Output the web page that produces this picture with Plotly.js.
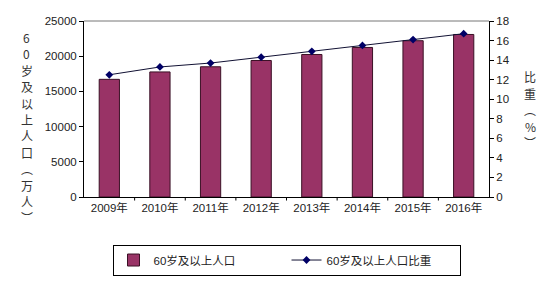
<!DOCTYPE html>
<html><head><meta charset="utf-8">
<script src="https://cdn.plot.ly/plotly-3.0.1.min.js"></script>
<style>html,body{margin:0;padding:0;background:#fff}</style>
</head><body><div id="chart" style="width:548px;height:288px"></div>
<script>
const years = ["2009年","2010年","2011年","2012年","2013年","2014年","2015年","2016年"];
const population = [16714, 17765, 18499, 19390, 20243, 21242, 22200, 23086];
const ratio = [12.5, 13.3, 13.7, 14.3, 14.9, 15.5, 16.1, 16.7];
const barName = "60岁及以上人口";
const lineName = "60岁及以上人口比重";
const leftTitleChars = ["6","0","岁","及","以","上","人","口","︵","万","人","︶"];
const rightTitleChars = ["比","重","︵","%","︶"];

const font = {family: "Liberation Sans, Arial, Noto Sans CJK SC, sans-serif", size: 11.5, color: "#222"};
const titleFont = {family: "Noto Sans CJK SC, sans-serif", size: 12, color: "#333"};
const plotTop = 21, plotH = 180.5;
function pyToPaper(py) { return (plotTop + plotH - py) / plotH; }
function stacked(chars, px, py0, step) {
  return chars.map((c, i) => ({text: c, xref: "paper", yref: "paper",
    x: (px - 84) / 405, y: pyToPaper(py0 + i * step), showarrow: false,
    font: titleFont, xanchor: "center", yanchor: "middle"}));
}
const data = [
  {type: "bar", x: years, y: population, name: barName, yaxis: "y",
   marker: {color: "#993366", line: {color: "#3a1025", width: 1}}},
  {type: "scatter", mode: "lines+markers", x: years, y: ratio, name: lineName, yaxis: "y2",
   line: {color: "#111133", width: 1}, marker: {symbol: "diamond", size: 6, color: "#000066"}}
];
const layout = {
  width: 548, height: 288,
  margin: {l: 84, r: 59, t: 21, b: 87},
  paper_bgcolor: "#fff", plot_bgcolor: "#fff",
  font: font, bargap: 0.6, showlegend: true,
  xaxis: {showline: true, linecolor: "#000", linewidth: 1, ticks: "", tickfont: font,
          showgrid: false, zeroline: false, fixedrange: true},
  yaxis: {range: [0, 25000], dtick: 5000, tickformat: "d", showline: true, linecolor: "#000", linewidth: 1,
          ticks: "outside", ticklen: 4, tickcolor: "#000", showgrid: false, zeroline: false, tickfont: font},
  yaxis2: {range: [0, 18], dtick: 2, overlaying: "y", side: "right", showline: true, linecolor: "#000",
           linewidth: 1, ticks: "outside", ticklen: 4, tickcolor: "#000", showgrid: false, zeroline: false, tickfont: font},
  legend: {orientation: "h", x: 0.5, xanchor: "center", y: -0.27, yanchor: "top",
           bordercolor: "#000", borderwidth: 1, font: font, entrywidth: 128, traceorder: "normal"},
  shapes: [
    {type: "line", xref: "paper", yref: "paper", x0: 0, x1: 1, y0: 1, y1: 1, line: {color: "#777", width: 1}}
  ].concat(years.slice(1).map((_, i) => ({type: "line", xref: "x", yref: "paper",
     x0: i + 0.5, x1: i + 0.5, y0: 0, y1: -0.02, line: {color: "#000", width: 1}}))),
  annotations: stacked(leftTitleChars, 27, 38, 16.8).concat(stacked(rightTitleChars, 530, 78, 17))
};
Plotly.newPlot("chart", data, layout, {displayModeBar: false, staticPlot: true});
</script></body></html>
